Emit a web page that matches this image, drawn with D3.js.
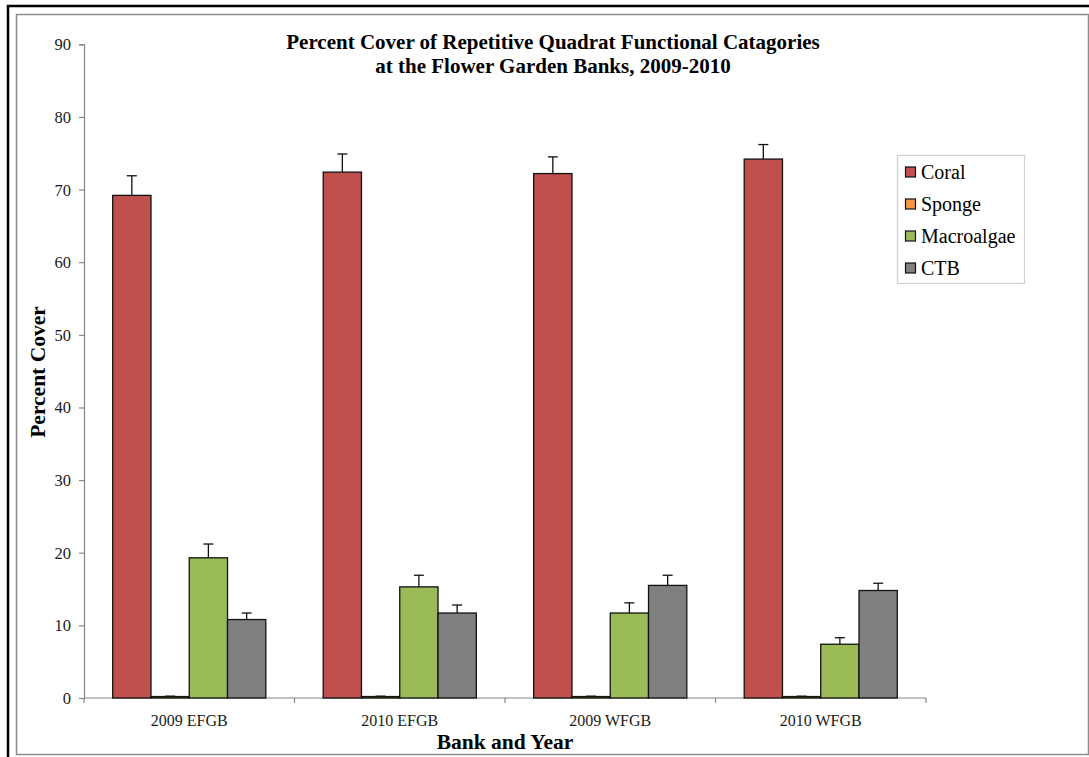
<!DOCTYPE html>
<html>
<head>
<meta charset="utf-8">
<script src="https://cdn.jsdelivr.net/npm/d3@7"></script>
<style>
  html, body { margin: 0; padding: 0; background: #fff; }
  svg { display: block; }
  svg text { font-family: "Liberation Serif", "Times New Roman", serif !important; }
</style>
</head>
<body>
<svg id="chart" width="1089" height="757" font-family="Liberation Serif, serif"></svg>
<script>
// Bank/year groups along the x axis
const groups = ["2009 EFGB", "2010 EFGB", "2009 WFGB", "2010 WFGB"];
// Functional categories (one bar each per group)
const categories = ["Coral", "Sponge", "Macroalgae", "CTB"];
const colors = ["#C0504D", "#F79646", "#9BBB59", "#808080"];

// Mean percent cover per group, one array per category
const coral = [69.2, 72.4, 72.2, 74.2];
const sponge = [0.2, 0.2, 0.2, 0.2];
const macroalgae = [19.3, 15.3, 11.7, 7.4];
const ctb = [10.8, 11.7, 15.5, 14.8];

// Standard error (upper whisker) per group
const coralErr = [2.7, 2.5, 2.3, 2.0];
const spongeErr = [0.05, 0.05, 0.05, 0.05];
const macroalgaeErr = [1.9, 1.6, 1.4, 0.9];
const ctbErr = [0.9, 1.1, 1.4, 1.0];

const yTicks = [0, 10, 20, 30, 40, 50, 60, 70, 80, 90];

const values = [coral, sponge, macroalgae, ctb];
const errors = [coralErr, spongeErr, macroalgaeErr, ctbErr];

const FONT = "'Liberation Serif', 'Times New Roman', serif";
const svg = d3.select("#chart");

// Outer frame: black outline with an inner grey border
svg.append("rect").attr("x", 16.5).attr("y", 14.5).attr("width", 1072).attr("height", 740)
  .attr("fill", "#fff").attr("stroke", "#8c8c8c").attr("stroke-width", 1.5);
svg.append("line").attr("x1", 7).attr("x2", 1089).attr("y1", 6).attr("y2", 6)
  .attr("stroke", "#000").attr("stroke-width", 2.5);
svg.append("line").attr("x1", 8).attr("x2", 8).attr("y1", 5).attr("y2", 757)
  .attr("stroke", "#000").attr("stroke-width", 2.5);

const plot = { left: 84, right: 926, top: 44.3, bottom: 698 };

const x0 = d3.scaleBand().domain(groups).range([plot.left, plot.right]).padding(0);
const x1 = d3.scaleBand().domain(categories).range([0, x0.bandwidth()])
  .paddingInner(0).paddingOuter(0.75);
const y = d3.scaleLinear().domain([0, 90]).range([plot.bottom, plot.top]);

// Y axis
const yAxis = d3.axisLeft(y).tickValues(yTicks).tickSize(5).tickPadding(8);
const gy = svg.append("g").attr("transform", `translate(${plot.left},0)`).call(yAxis)
  .attr("font-family", FONT).attr("font-size", 16.5);
gy.select(".domain").attr("stroke", "#868686").attr("stroke-width", 1.2);
gy.selectAll(".tick line").attr("stroke", "#868686").attr("stroke-width", 1.2);
gy.selectAll(".tick text").attr("fill", "#1a1a1a").attr("dy", "0.33em");

// X axis: ticks sit on group boundaries, labels at group centres
const gx = svg.append("g").attr("font-family", FONT);
gx.append("line").attr("x1", plot.left).attr("x2", plot.right)
  .attr("y1", plot.bottom).attr("y2", plot.bottom)
  .attr("stroke", "#868686").attr("stroke-width", 1.2);
const bounds = groups.map(g => x0(g)).concat([plot.right]);
gx.selectAll("line.tk").data(bounds).join("line").attr("class", "tk")
  .attr("x1", d => d).attr("x2", d => d)
  .attr("y1", plot.bottom).attr("y2", plot.bottom + 5)
  .attr("stroke", "#868686").attr("stroke-width", 1.2);
gx.selectAll("text").data(groups).join("text")
  .attr("x", d => x0(d) + x0.bandwidth() / 2).attr("y", 726)
  .attr("text-anchor", "middle").attr("font-size", 16).attr("fill", "#1a1a1a")
  .text(d => d);

// Bars
const barG = svg.append("g");
categories.forEach((cat, ci) => {
  const g = barG.append("g");
  g.selectAll("rect").data(groups).join("rect")
    .attr("x", d => x0(d) + x1(cat))
    .attr("y", (d, i) => y(values[ci][i]))
    .attr("width", x1.bandwidth())
    .attr("height", (d, i) => y(0) - y(values[ci][i]))
    .attr("fill", colors[ci])
    .attr("stroke", "#111").attr("stroke-width", 1.3);
  // Upper error bars
  const eg = g.append("g");
  groups.forEach((grp, i) => {
    const cx = x0(grp) + x1(cat) + x1.bandwidth() / 2;
    const top = y(values[ci][i] + errors[ci][i]);
    eg.append("line").attr("x1", cx).attr("x2", cx)
      .attr("y1", y(values[ci][i])).attr("y2", top)
      .attr("stroke", "#111").attr("stroke-width", 1.3);
    eg.append("line").attr("x1", cx - 5).attr("x2", cx + 5)
      .attr("y1", top).attr("y2", top)
      .attr("stroke", "#111").attr("stroke-width", 1.3);
  });
});

// Title
const title = svg.append("text").attr("text-anchor", "middle")
  .attr("font-family", FONT).attr("font-size", 21).attr("font-weight", "bold").attr("fill", "#000");
title.append("tspan").attr("x", 553).attr("y", 49)
  .text("Percent Cover of Repetitive Quadrat Functional Catagories");
title.append("tspan").attr("x", 553).attr("y", 73)
  .text("at the Flower Garden Banks, 2009-2010");

// Axis titles
svg.append("text").attr("transform", "translate(45,372) rotate(-90)")
  .attr("font-family", FONT)
  .attr("text-anchor", "middle").attr("font-size", 21.5).attr("font-weight", "bold")
  .text("Percent Cover");
svg.append("text").attr("x", 505).attr("y", 749)
  .attr("font-family", FONT)
  .attr("text-anchor", "middle").attr("font-size", 21.5).attr("font-weight", "bold")
  .text("Bank and Year");

// Legend
const lg = svg.append("g").attr("font-family", FONT);
lg.append("rect").attr("x", 897.5).attr("y", 155.5).attr("width", 127).attr("height", 128)
  .attr("fill", "#fff").attr("stroke", "#d0d0d0").attr("stroke-width", 1.2);
const rowY = [172.5, 204.5, 236.5, 268.5];
categories.forEach((cat, i) => {
  lg.append("rect").attr("x", 905.5).attr("y", rowY[i] - 5.5).attr("width", 10).attr("height", 10)
    .attr("fill", colors[i]).attr("stroke", "#111").attr("stroke-width", 1.2);
  lg.append("text").attr("x", 921).attr("y", rowY[i] + 6.5)
    .attr("font-size", 20).attr("fill", "#000").text(cat);
});
</script>
</body>
</html>
